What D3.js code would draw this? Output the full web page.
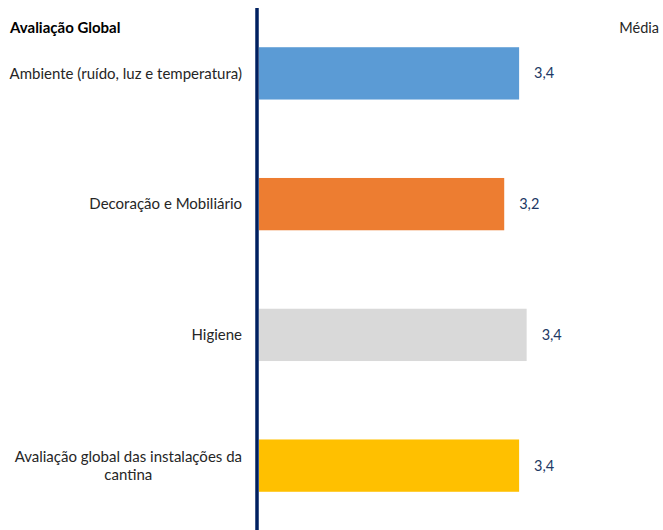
<!DOCTYPE html>
<html>
<head>
<meta charset="utf-8">
<script src="https://cdn.jsdelivr.net/npm/d3@7"></script>
<style>
  html, body { margin: 0; padding: 0; background: #fff; }
  svg { display: block; }
  text { font-family: Lato, "Open Sans", sans-serif; }
</style>
</head>
<body>
<svg id="chart" width="663" height="530"></svg>
<script>
// Categories (top to bottom), average scores and bar colours
const categories = [
  ["Ambiente (ruído, luz e temperatura)"],
  ["Decoração e Mobiliário"],
  ["Higiene"],
  ["Avaliação global das instalações da", "cantina"]
];
const categoryKeys = ["Ambiente", "Decoração", "Higiene", "Global"];
const values = [3.352, 3.16, 3.449, 3.352];
const colors = ["#5B9BD5", "#ED7D31", "#D9D9D9", "#FFC000"];
const title = "Avaliação Global";
const seriesName = "Média";

const svg = d3.select("#chart");
const axisX = 257;
const fontSize = 15;

const x = d3.scaleLinear().domain([0, 4]).range([axisX + 2, axisX + 2 + 4 * 77.6]);
const y = d3.scaleBand().domain(categoryKeys).range([8, 531]).paddingInner(0.6).paddingOuter(0.3);
const fmt = v => d3.format(".1f")(v).replace(".", ",");

const data = categoryKeys.map((k, i) => ({ key: k, lines: categories[i], value: values[i], color: colors[i] }));

// Bars
svg.append("g").selectAll("rect").data(data).join("rect")
  .attr("x", x(0))
  .attr("y", d => y(d.key))
  .attr("width", d => x(d.value) - x(0))
  .attr("height", y.bandwidth())
  .attr("fill", d => d.color);

// Value labels
svg.append("g").selectAll("text").data(data).join("text")
  .attr("x", d => x(d.value) + 15)
  .attr("y", d => y(d.key) + y.bandwidth() / 2)
  .attr("dy", "0.35em")
  .attr("font-size", 14.5)
  .attr("fill", "#203864")
  .text(d => fmt(d.value));

// Category labels: block right-aligned to the axis, lines centred inside the block
const labelRight = 242;
const lineH = 18.5;
const catG = svg.append("g");
data.forEach(d => {
  const widths = d.lines.map(l => {
    const s = catG.append("text").attr("font-size", fontSize).text(l);
    const w = s.node().getComputedTextLength();
    s.remove();
    return w;
  });
  const blockW = d3.max(widths);
  const cx = labelRight - blockW / 2;
  const cy = y(d.key) + y.bandwidth() / 2;
  const n = d.lines.length;
  const t = catG.append("text").attr("font-size", fontSize).attr("fill", "#262626");
  d.lines.forEach((l, i) => {
    t.append("tspan")
      .attr("x", cx)
      .attr("text-anchor", "middle")
      .attr("y", cy + (i - (n - 1) / 2) * lineH)
      .attr("dy", "0.35em")
      .text(l);
  });
});

// Vertical axis line
svg.append("line")
  .attr("x1", axisX).attr("x2", axisX)
  .attr("y1", 8).attr("y2", 530)
  .attr("stroke", "#002060")
  .attr("stroke-width", 3.5);

// Title and series name
svg.append("text")
  .attr("x", 10).attr("y", 33)
  .attr("font-size", fontSize).attr("font-weight", "bold")
  .attr("fill", "#000")
  .text(title);

svg.append("text")
  .attr("x", 659).attr("y", 33)
  .attr("text-anchor", "end")
  .attr("font-size", 14.5)
  .attr("fill", "#262626")
  .text(seriesName);
</script>
</body>
</html>
